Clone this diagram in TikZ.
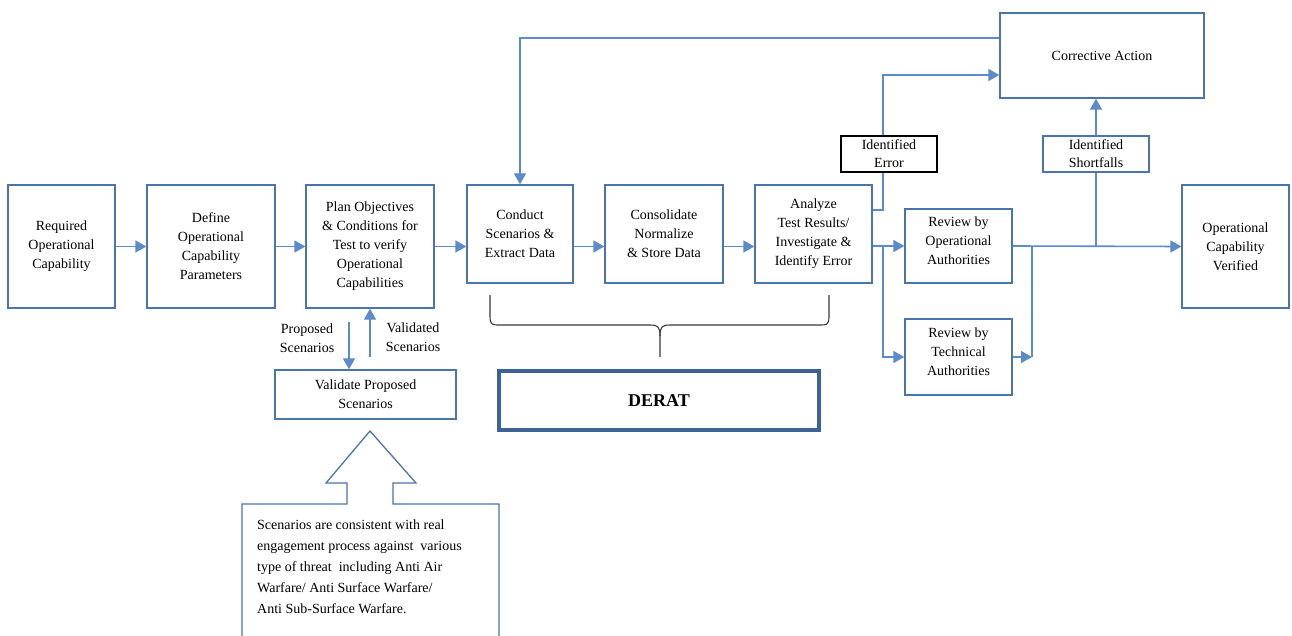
\documentclass[tikz,border=0pt]{standalone}
\usepackage{fontspec}
\setmainfont{Liberation Serif}
\usetikzlibrary{arrows.meta}
\definecolor{boxblue}{HTML}{4A74AC}
\definecolor{linkblue}{HTML}{5B8BC8}
\definecolor{deratblue}{HTML}{3D6396}
\definecolor{bracegray}{HTML}{3A3A3A}
\begin{document}
\begin{tikzpicture}[x=1pt,y=-1pt,
  box/.style={draw=boxblue,line width=1.3pt,fill=white,inner sep=0pt,
    align=center,font=\fontsize{14}{19}\selectfont},
  plain/.style={inner sep=0pt,align=center,font=\fontsize{14}{19}\selectfont},
  conn/.style={draw=linkblue,line width=1.6pt,-{Triangle[length=11pt,width=12pt]}},
  link/.style={draw=linkblue,line width=1.6pt},
]
\clip (0,0) rectangle (1292,636);
\fill[white] (0,0) rectangle (1292,636);

% main process chain
\node[box,minimum width=107,minimum height=123] (req) at (61.5,246.5) {Required\\Operational\\Capability};
\node[box,minimum width=128,minimum height=123] (def) at (211,246.5) {Define\\Operational\\Capability\\Parameters};
\node[box,minimum width=128,minimum height=123] (plan) at (370,246.5) {Plan Objectives\\\& Conditions for\\Test to verify\\Operational\\Capabilities};
\node[box,minimum width=106,minimum height=98] (conduct) at (520,234) {Conduct\\Scenarios \&\\Extract Data};
\node[box,minimum width=118,minimum height=98] (consol) at (664,234) {Consolidate\\Normalize\\\& Store Data};
\node[box,minimum width=117,minimum height=98] (analyze) at (813.5,234) {Analyze\\Test Results/\\Investigate \&\\Identify Error};

% review stage
\node[box,minimum width=107,minimum height=74] (revop) at (958.5,246) {};
\node[plain] (revoptxt) at (958.5,241) {Review by\\Operational\\Authorities};
\node[box,minimum width=107,minimum height=76] (revtech) at (958.5,357) {};
\node[plain] (revtechtxt) at (958.5,352) {Review by\\Technical\\Authorities};
\node[box,minimum width=107,minimum height=123] (ocv) at (1235.5,246.5) {Operational\\Capability\\Verified};

% feedback loop
\node[box,minimum width=204,minimum height=85] (corr) at (1102,55.5) {Corrective Action};
\node[box,draw=black,line width=1.8pt,minimum width=96,minimum height=36,font=\fontsize{14}{18}\selectfont] (ierr) at (889,154) {Identified\\Error};
\node[box,minimum width=106,minimum height=36,font=\fontsize{14}{18}\selectfont] (isf) at (1096,154) {Identified\\Shortfalls};

% scenario validation
\node[box,minimum width=181,minimum height=49] (valid) at (365.5,394.5) {Validate Proposed\\Scenarios};
\node[plain] (proplbl) at (307,338) {Proposed\\Scenarios};
\node[plain] (vallbl) at (413,337) {Validated\\Scenarios};

% DERAT grouping
\node[draw=deratblue,line width=4pt,minimum width=320,minimum height=59,inner sep=0pt,
  font=\fontsize{18}{20}\selectfont\bfseries] (derat) at (659,400.5) {DERAT};

% helper coordinates for routed connectors
\coordinate (pd) at (349,322);
\coordinate (vu) at (370,357);
\coordinate (ej) at (883,210);
\coordinate (ea) at (883,75);
\coordinate (sp) at (883,246);
\coordinate (jn) at (1032,246);
\coordinate (top) at (1000,38);

% chain connectors
\draw[conn] (req.east |- plan.east) -- (def.west |- plan.east);
\draw[conn] (def.east |- plan.east) -- (plan.west);
\draw[conn] (plan.east) -- (conduct.west |- plan.east);
\draw[conn] (conduct.east |- plan.east) -- (consol.west |- plan.east);
\draw[conn] (consol.east |- plan.east) -- (analyze.west |- plan.east);

% validation arrows
\draw[conn] (pd) -- (pd |- valid.north);
\draw[conn] (vu) -- (vu |- plan.south);

% analysis outputs
\draw[conn] (analyze.east |- sp) -- (revop.west);
\draw[conn] (sp) |- (revtech.west);
\draw[link] (analyze.east |- ej) -- (ej) -- (ej |- ierr.south);
\draw[conn] (ej |- ierr.north) -- (ea) -- (corr.west |- ea);

% review outputs
\draw[conn] (revop.east) -- (ocv.west);
\draw[conn] (revtech.east) -- (revtech.east -| jn);
\draw[link] (revtech.east -| jn) -- (jn);
\draw[link] (isf.south) -- (isf.south |- revop.east);
\draw[conn] (isf.north) -- (isf.north |- corr.south);

% corrective loop back to test execution
\draw[conn] (corr.west |- top) -| (conduct.north);

% brace over the DERAT steps
\draw[bracegray,line width=1.1pt,line join=round]
  (490,295) -- (490,316) .. controls (490,325) and (492,325) .. (500,325)
  -- (650,325) .. controls (658,325) and (660,327) .. (660,336) -- (660,357);
\draw[bracegray,line width=1.1pt,line join=round]
  (829,295) -- (829,316) .. controls (829,325) and (827,325) .. (819,325)
  -- (670,325) .. controls (662,325) and (660,327) .. (660,336);

% callout with block arrow
\draw[boxblue,line width=1.3pt,line join=miter,fill=white]
  (242,650) -- (242,504) -- (347,504) -- (347,483) -- (326,483) -- (370,431)
  -- (416,483) -- (393,483) -- (393,504) -- (499,504) -- (499,650);
\node[plain,align=left,anchor=north west,font=\fontsize{14}{21}\selectfont] (note) at (257,520)
  {Scenarios are consistent with real\\
   engagement process against \ various\\
   type of threat \ including Anti Air\\
   Warfare/ Anti Surface Warfare/\\
   Anti Sub-Surface Warfare.};
\end{tikzpicture}
\end{document}
